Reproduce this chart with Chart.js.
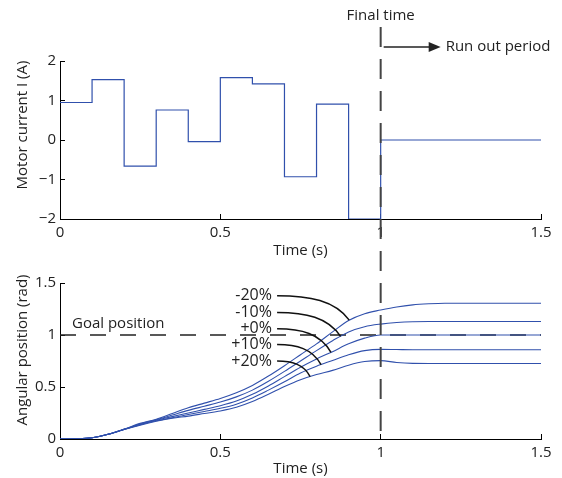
<!DOCTYPE html>
<html>
<head>
<meta charset="utf-8">
<script src="https://cdn.jsdelivr.net/npm/chart.js@4.4.1/dist/chart.umd.min.js"></script>
<style>
  html, body { margin: 0; padding: 0; background: #fff; }
  #wrap { position: relative; width: 562px; height: 478px; overflow: hidden; }
  canvas { position: absolute; left: 0; }
</style>
</head>
<body>
<div id="wrap">
  <canvas id="current" width="562" height="262" style="top:0"></canvas>
  <canvas id="position" width="562" height="216" style="top:262px"></canvas>
</div>
<script>
// --- data ---
const stepTimes = [0, 0.1, 0.2, 0.3, 0.4, 0.5, 0.6, 0.7, 0.8, 0.9, 1.0, 1.5];
const motorCurrent = [0.95, 1.53, -0.66, 0.76, -0.04, 1.58, 1.42, -0.93, 0.91, -2, 0, 0];

const timeGrid = [0, 0.05, 0.1, 0.15, 0.2, 0.25, 0.3, 0.35, 0.4, 0.45, 0.5, 0.55, 0.6, 0.65,
  0.7, 0.75, 0.8, 0.85, 0.9, 0.95, 1.0, 1.05, 1.1, 1.15, 1.2, 1.3, 1.4, 1.5];
const posMinus20 = [0, 0.002, 0.012, 0.045, 0.095, 0.15, 0.19, 0.245, 0.30, 0.345, 0.39, 0.445, 0.515, 0.605,
  0.705, 0.81, 0.915, 1.03, 1.14, 1.205, 1.24, 1.27, 1.29, 1.30, 1.305, 1.305, 1.305, 1.305];
const posMinus10 = [0, 0.002, 0.012, 0.045, 0.094, 0.145, 0.185, 0.23, 0.275, 0.315, 0.355, 0.405, 0.47, 0.555,
  0.65, 0.75, 0.85, 0.945, 1.03, 1.08, 1.105, 1.12, 1.128, 1.13, 1.13, 1.13, 1.13, 1.13];
const posPlus0 = [0, 0.002, 0.012, 0.045, 0.093, 0.14, 0.18, 0.215, 0.25, 0.285, 0.32, 0.365, 0.43, 0.51,
  0.60, 0.69, 0.77, 0.84, 0.915, 0.97, 1.0, 1.0, 1.0, 1.0, 1.0, 1.0, 1.0, 1.0];
const posPlus10 = [0, 0.002, 0.012, 0.045, 0.092, 0.137, 0.175, 0.205, 0.235, 0.265, 0.295, 0.335, 0.395, 0.47,
  0.55, 0.635, 0.70, 0.755, 0.81, 0.85, 0.862, 0.86, 0.858, 0.858, 0.858, 0.858, 0.858, 0.858];
const posPlus20 = [0, 0.002, 0.012, 0.045, 0.091, 0.133, 0.17, 0.20, 0.22, 0.245, 0.27, 0.305, 0.36, 0.43,
  0.505, 0.57, 0.62, 0.66, 0.71, 0.745, 0.754, 0.735, 0.727, 0.726, 0.726, 0.726, 0.726, 0.726];

const seriesLabels = ['-20%', '-10%', '+0%', '+10%', '+20%'];
const labelLevels = [1.378, 1.217, 1.059, 0.908, 0.75];   // y of each label / leader start
const leaderEndTimes = [0.902, 0.875, 0.845, 0.814, 0.78]; // where each leader touches its curve
const goalPosition = 1;
const finalTime = 1;

const blue = 'rgb(48, 80, 172)';
Chart.defaults.font.family = "'Open Sans', sans-serif";
Chart.defaults.font.size = 15;
Chart.defaults.color = '#222';

function fmt(v) {
  return v < 0 ? '\u2212' + Math.abs(v) : String(v);
}

function xScale(title, height, titlePad) {
  return {
    type: 'linear', min: 0, max: 1.5,
    border: { display: true, color: '#000', width: 1 },
    grid: { drawOnChartArea: false, drawTicks: true, tickLength: -5, tickColor: '#000' },
    ticks: { stepSize: 0.5, padding: 10, callback: fmt, maxRotation: 0, font: { size: 15 } },
    title: { display: true, text: title, font: { size: 15 }, padding: { top: 0, bottom: titlePad } },
    afterFit: s => { s.height = height; }
  };
}

function yScale(min, max, step) {
  return {
    type: 'linear', min, max,
    border: { display: true, color: '#000', width: 1 },
    grid: { drawOnChartArea: false, drawTicks: true, tickLength: -5, tickColor: '#000' },
    ticks: { stepSize: step, padding: 9, callback: fmt, font: { size: 15 } },
    afterFit: s => { s.width = 60; }
  };
}

function yTitle(text, cy) {
  return {
    id: 'ytitle',
    afterDraw(chart) {
      const ctx = chart.ctx;
      ctx.save();
      ctx.translate(23, cy);
      ctx.rotate(-Math.PI / 2);
      ctx.font = "15px 'Open Sans', sans-serif";
      ctx.fillStyle = '#222';
      ctx.textAlign = 'center';
      ctx.textBaseline = 'middle';
      ctx.fillText(text, 0, 0);
      ctx.restore();
    }
  };
}

function finalLine(y0, y1, offset) {
  return {
    id: 'finalLine',
    afterDatasetsDraw(chart) {
      const ctx = chart.ctx;
      const x = chart.scales.x.getPixelForValue(finalTime);
      ctx.save();
      ctx.strokeStyle = '#444';
      ctx.lineWidth = 2;
      ctx.setLineDash([20, 12]);
      ctx.lineDashOffset = offset;
      ctx.beginPath();
      ctx.moveTo(x, y0(chart));
      ctx.lineTo(x, y1(chart));
      ctx.stroke();
      ctx.restore();
    }
  };
}

const topNotes = {
  id: 'topNotes',
  afterDraw(chart) {
    const ctx = chart.ctx;
    const x = chart.scales.x.getPixelForValue(finalTime);
    ctx.save();
    ctx.fillStyle = '#222';
    ctx.font = "15px 'Open Sans', sans-serif";
    ctx.textAlign = 'center';
    ctx.textBaseline = 'middle';
    ctx.fillText('Final time', x, 16);
    // arrow
    const ay = 47, ax0 = x + 3, ax1 = x + 60;
    ctx.strokeStyle = '#222';
    ctx.lineWidth = 1.5;
    ctx.beginPath();
    ctx.moveTo(ax0, ay);
    ctx.lineTo(ax1 - 8, ay);
    ctx.stroke();
    ctx.beginPath();
    ctx.moveTo(ax1, ay);
    ctx.lineTo(ax1 - 12, ay - 5);
    ctx.lineTo(ax1 - 12, ay + 5);
    ctx.closePath();
    ctx.fill();
    ctx.textAlign = 'left';
    ctx.fillText('Run out period', ax1 + 5, ay);
    ctx.restore();
  }
};

const currentChart = new Chart(document.getElementById('current'), {
  type: 'line',
  data: {
    datasets: [{
      data: stepTimes.map((t, i) => ({ x: t, y: motorCurrent[i] })),
      borderColor: blue, borderWidth: 1.2, stepped: 'before',
      pointRadius: 0, fill: false
    }]
  },
  options: {
    responsive: false, animation: false,
    layout: { padding: { left: 0, top: 61, right: 21, bottom: 0 } },
    plugins: { legend: { display: false }, tooltip: { enabled: false } },
    scales: { x: xScale('Time (s)', 43, 2), y: yScale(-2, 2, 1) }
  },
  plugins: [yTitle('Motor current I (A)', 125),
    finalLine(() => 27, c => c.height, 0), topNotes]
});

const positionSeries = [posMinus20, posMinus10, posPlus0, posPlus10, posPlus20];

function valueAt(series, t) {
  for (let i = 1; i < timeGrid.length; i++) {
    if (t <= timeGrid[i]) {
      const f = (t - timeGrid[i - 1]) / (timeGrid[i] - timeGrid[i - 1]);
      return series[i - 1] + f * (series[i] - series[i - 1]);
    }
  }
  return series[series.length - 1];
}

const leaders = {
  id: 'leaders',
  afterDraw(chart) {
    const { ctx, scales: { x, y } } = chart;
    ctx.save();
    ctx.font = "16px 'Open Sans', sans-serif";
    ctx.fillStyle = '#222';
    ctx.strokeStyle = '#111';
    ctx.lineWidth = 1.5;
    ctx.textAlign = 'right';
    ctx.textBaseline = 'middle';
    seriesLabels.forEach((lab, i) => {
      const sy = y.getPixelForValue(labelLevels[i]);
      ctx.fillText(lab, x.getPixelForValue(0.661), sy);
      const sx = x.getPixelForValue(0.677);
      const ex = x.getPixelForValue(leaderEndTimes[i]);
      const ey = y.getPixelForValue(valueAt(positionSeries[i], leaderEndTimes[i]));
      ctx.beginPath();
      ctx.moveTo(sx, sy);
      ctx.bezierCurveTo(sx + 0.45 * (ex - sx), sy, ex - 0.2 * (ex - sx), sy + 0.2 * (ey - sy), ex, ey);
      ctx.stroke();
    });
    ctx.font = "15px 'Open Sans', sans-serif";
    ctx.textAlign = 'left';
    ctx.fillText('Goal position', 72, y.getPixelForValue(goalPosition) - 11);
    ctx.restore();
  }
};

const positionChart = new Chart(document.getElementById('position'), {
  type: 'line',
  data: {
    datasets: positionSeries.map(s => ({
      data: timeGrid.map((t, i) => ({ x: t, y: s[i] })),
      borderColor: blue, borderWidth: 1.1, pointRadius: 0, fill: false,
      cubicInterpolationMode: 'monotone'
    })).concat([{
      data: [{ x: 0, y: goalPosition }, { x: 1.5, y: goalPosition }],
      borderColor: '#222', borderWidth: 1.5, borderDash: [16, 14],
      pointRadius: 0, fill: false
    }])
  },
  options: {
    responsive: false, animation: false,
    layout: { padding: { left: 0, top: 21, right: 21, bottom: 0 } },
    plugins: { legend: { display: false }, tooltip: { enabled: false } },
    scales: { x: xScale('Time (s)', 39, 0), y: yScale(0, 1.5, 0.5) }
  },
  plugins: [yTitle('Angular position (rad)', 88),
    finalLine(() => 0, c => c.chartArea.bottom, 235), leaders]
});
</script>
</body>
</html>
